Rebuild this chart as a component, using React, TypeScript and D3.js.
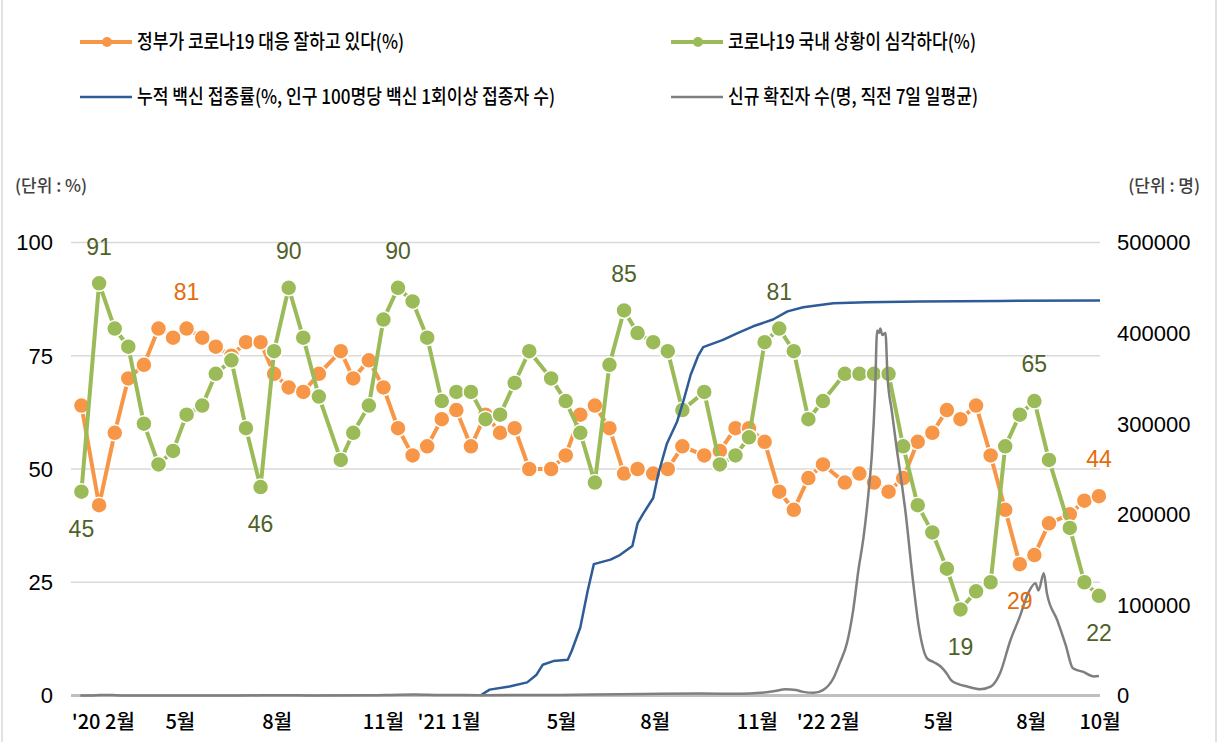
import React from "react";
import * as d3 from "d3";

// survey dates: days since 2020-01-01
const surveyDays = [39, 56, 71, 84, 99, 113, 127, 140, 155, 168, 183, 197, 211, 224, 238, 252, 267, 288, 300, 315, 329, 343, 357, 371, 385, 399, 413, 427, 441, 455, 469, 490, 504, 518, 532, 546, 560, 573, 588, 602, 616, 637, 652, 667, 680, 695, 709, 723, 737, 751, 772, 786, 800, 814, 828, 842, 856, 870, 883, 898, 912, 926, 940, 954, 968, 988, 1002, 1016];
const govGood = [64, 42, 58, 70, 73, 81, 79, 81, 79, 77, 75, 78, 78, 71, 68, 67, 71, 76, 70, 74, 68, 59, 53, 55, 61, 63, 55, 62, 58, 59, 50, 50, 53, 62, 64, 59, 49, 50, 49, 50, 55, 53, 54, 59, 59, 56, 45, 41, 48, 51, 47, 49, 47, 45, 48, 56, 58, 63, 61, 64, 53, 41, 29, 31, 38, 40, 43, 44];
const serious = [45, 91, 81, 77, 60, 51, 54, 62, 64, 71, 74, 59, 46, 76, 90, 79, 66, 52, 58, 64, 83, 90, 87, 79, 65, 67, 67, 61, 62, 69, 76, 70, 65, 58, 47, 73, 85, 80, 78, 76, 63, 67, 51, 53, 57, 78, 81, 76, 61, 65, 71, 71, 71, 71, 55, 42, 36, 28, 19, 23, 25, 55, 62, 65, 52, 37, 25, 22];
const govLabels = [{ i: 7, pos: -1 }, { i: 62, pos: 1 }, { i: 67, pos: -1 }];
const seriousLabels = [{ i: 0, pos: 1 }, { i: 1, pos: -1 }, { i: 12, pos: 1 }, { i: 14, pos: -1 }, { i: 21, pos: -1 }, { i: 36, pos: -1 }, { i: 46, pos: -1 }, { i: 58, pos: 1 }, { i: 63, pos: -1 }, { i: 67, pos: 1 }];

const vaxDays = [422, 431, 450, 467, 476, 482, 492, 506, 510, 518, 525, 531, 547, 556, 568, 573, 578, 588, 593, 601, 611, 617, 624, 631, 636, 655, 669, 684, 703, 717, 732, 761, 793, 844, 921, 1017];
const vaxRate = [0, 1.3, 2.0, 2.9, 4.6, 6.8, 7.6, 7.9, 10, 15, 23, 29, 30, 31, 33, 38, 40, 43.6, 49, 55.5, 60.5, 65, 70.8, 74.9, 76.9, 78.5, 80, 81.5, 83, 84.8, 85.7, 86.6, 86.8, 87, 87.1, 87.2];

const caseDays = [38, 48, 57, 64, 72, 86, 134, 192, 230, 259, 316, 345, 359, 383, 422, 499, 556, 595, 633, 672, 691, 705, 715, 725, 732, 742, 751, 761, 767, 774, 780, 785, 790, 795, 798, 801, 803, 805, 806, 808, 811, 813, 817, 822, 827, 830, 837, 843, 851, 857, 864, 870, 874, 880, 890, 902, 912, 921, 931, 940, 948, 955, 958, 963, 966, 976, 984, 991, 1001, 1011, 1016];
const cases = [20, 100, 500, 600, 300, 100, 30, 50, 280, 120, 300, 900, 1000, 500, 400, 600, 1500, 1900, 2200, 1800, 3000, 5000, 7000, 6000, 4000, 3000, 6000, 19000, 35500, 57600, 94000, 138000, 175000, 227000, 267000, 333000, 403000, 400000, 405000, 398000, 400000, 352000, 315000, 271000, 231000, 205000, 131000, 76000, 41000, 37000, 32000, 24000, 17000, 13000, 9700, 6800, 9700, 24500, 61000, 87000, 113000, 124000, 116000, 135000, 113000, 83000, 56000, 30000, 26000, 21000, 21500];

const xTickDays = [60, 134, 227, 329, 392, 500, 590, 688, 756, 862, 951, 1017];
const xTickLabels = ["'20 2월", "5월", "8월", "11월", "'21 1월", "5월", "8월", "11월", "'22 2월", "5월", "8월", "10월"];
const leftTicks = [0, 25, 50, 75, 100];
const rightTicks = [0, 100000, 200000, 300000, 400000, 500000];

const ORANGE = "#F79646";
const GREEN = "#9BBB59";
const BLUE = "#2E5C97";
const GRAY = "#7F7F7F";
const KR = "'Noto Sans CJK KR', 'Noto Sans', sans-serif";
const NUM = "'Liberation Sans', Arial, sans-serif";

export default function App() {
  const x = d3.scaleLinear().domain([29, 1017]).range([71, 1100]);
  const yL = d3.scaleLinear().domain([0, 100]).range([695.5, 242.5]);
  const yR = d3.scaleLinear().domain([0, 500000]).range([695.5, 242.5]);

  const surveyLine = (vals: number[]) =>
    d3.line<number>().x((_, i) => x(surveyDays[i])).y((v) => yL(v))(vals) || "";
  const vaxPath = d3.line<number>().x((_, i) => x(vaxDays[i])).y((v) => yL(v))(vaxRate) || "";
  const casePath = d3.line<number>().x((_, i) => x(caseDays[i])).y((v) => yR(v)).curve(d3.curveMonotoneX)(cases) || "";

  const legend = [
    { x: 80, y: 42, color: ORANGE, dot: true, text: "정부가 코로나19 대응 잘하고 있다(%)", w: 267 },
    { x: 671, y: 42, color: GREEN, dot: true, text: "코로나19 국내 상황이 심각하다(%)", w: 248 },
    { x: 80, y: 97, color: BLUE, dot: false, text: "누적 백신 접종률(%, 인구 100명당 백신 1회이상 접종자 수)", w: 418 },
    { x: 671, y: 97, color: GRAY, dot: false, text: "신규 확진자 수(명, 직전 7일 일평균)", w: 250 },
  ];

  return (
    <svg width={1218} height={742} style={{ position: "absolute", left: 0, top: 0, background: "#fff" }}>
      <line x1={2} x2={2} y1={0} y2={742} stroke="#D9D9D9" strokeWidth={1.5} />
      <line x1={1216} x2={1216} y1={0} y2={742} stroke="#D9D9D9" strokeWidth={1.5} />

      {legend.map((l, i) => (
        <g key={i}>
          <line x1={l.x} x2={l.x + 52} y1={l.y} y2={l.y} stroke={l.color} strokeWidth={l.dot ? 4 : 2.5} />
          {l.dot && <circle cx={l.x + 27} cy={l.y} r={5} fill={l.color} />}
          <text x={l.x + 57} y={l.y} dy="0.36em" fontFamily={KR} fontSize={20} fontWeight={500} fill="#000"
            textLength={l.w} lengthAdjust="spacingAndGlyphs">{l.text}</text>
        </g>
      ))}

      <text x={15} y={186} dy="0.36em" fontFamily={KR} fontSize={17} fontWeight={500} fill="#404040">(단위 : %)</text>
      <text x={1200} y={186} dy="0.36em" textAnchor="end" fontFamily={KR} fontSize={17} fontWeight={500} fill="#404040">(단위 : 명)</text>

      {leftTicks.filter((t) => t > 0).map((t) => (
        <line key={t} x1={71} x2={1100} y1={yL(t)} y2={yL(t)} stroke="#D9D9D9" strokeWidth={1.5} />
      ))}
      <line x1={71} x2={1100} y1={yL(0)} y2={yL(0)} stroke="#BFBFBF" strokeWidth={3} />

      {leftTicks.map((t) => (
        <text key={t} x={53} y={yL(t)} dy="0.36em" textAnchor="end" fontFamily={NUM} fontSize={22} fill="#000">{t}</text>
      ))}
      {rightTicks.map((t) => (
        <text key={t} x={1117} y={yR(t)} dy="0.36em" fontFamily={NUM} fontSize={22} fill="#000">{t}</text>
      ))}
      {xTickDays.map((d, i) => (
        <text key={i} x={x(d)} y={722} dy="0.36em" textAnchor="middle" fontFamily={KR} fontSize={20} fontWeight={500} fill="#000">{xTickLabels[i]}</text>
      ))}

      <path d={surveyLine(govGood)} fill="none" stroke={ORANGE} strokeWidth={4} strokeLinejoin="round" />
      {govGood.map((v, i) => (
        <circle key={i} cx={x(surveyDays[i])} cy={yL(v)} r={8} fill={ORANGE} stroke="#fff" strokeWidth={1.5} />
      ))}
      <path d={surveyLine(serious)} fill="none" stroke={GREEN} strokeWidth={4} strokeLinejoin="round" />
      {serious.map((v, i) => (
        <circle key={i} cx={x(surveyDays[i])} cy={yL(v)} r={8} fill={GREEN} stroke="#fff" strokeWidth={1.5} />
      ))}

      <path d={vaxPath} fill="none" stroke={BLUE} strokeWidth={2.5} strokeLinejoin="round" />
      <path d={casePath} fill="none" stroke={GRAY} strokeWidth={2.5} strokeLinejoin="round" />

      {govLabels.map((l) => (
        <text key={"g" + l.i} x={x(surveyDays[l.i])} y={yL(govGood[l.i]) + l.pos * 37} dy="0.36em" textAnchor="middle"
          fontFamily={NUM} fontSize={23} fill="#E46C0A">{govGood[l.i]}</text>
      ))}
      {seriousLabels.map((l) => (
        <text key={"s" + l.i} x={x(surveyDays[l.i])} y={yL(serious[l.i]) + l.pos * 37} dy="0.36em" textAnchor="middle"
          fontFamily={NUM} fontSize={23} fill="#4F6228">{serious[l.i]}</text>
      ))}
    </svg>
  );
}
